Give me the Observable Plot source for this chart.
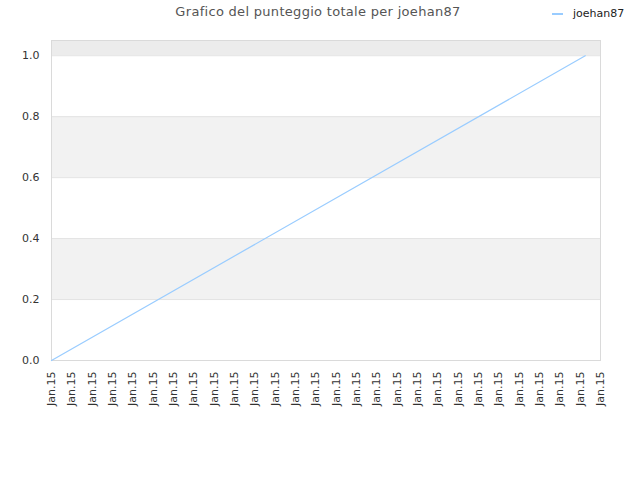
<!DOCTYPE html>
<html>
<head>
<meta charset="utf-8">
<script src="https://cdn.jsdelivr.net/npm/d3@7"></script>
<script src="https://cdn.jsdelivr.net/npm/@observablehq/plot@0.6"></script>
<style>
  body { margin: 0; background: #fff; font-family: "DejaVu Sans", sans-serif; }
  #wrap { position: relative; width: 640px; height: 480px; }
  #title { position: absolute; left: 0; width: 636px; top: 4px; text-align: center; font-size: 13px; color: #555; letter-spacing: 0.3px; }
  #legend { position: absolute; left: 552px; top: 7px; font-size: 11px; color: #222; display: flex; align-items: center; }
  #legend .sw { display: inline-block; width: 11px; height: 2px; background: #99ccff; margin-right: 10px; }
</style>
</head>
<body>
<div id="wrap">
  <div id="chart"></div>
  <div id="title">Grafico del punteggio totale per joehan87</div>
  <div id="legend"><span class="sw"></span><span>joehan87</span></div>
</div>
<script>
const seriesName = "joehan87";
const xValues = [0, 26.25];
const yValues = [0, 1];
const xTickLabels = Array.from({length: 28}, () => "Jan.15");
const xTicks = xTickLabels.map((_, i) => i);
const yTicks = [0, 0.2, 0.4, 0.6, 0.8, 1.0];
const bandLow = [0.2, 0.6];
const bandHigh = [0.4, 0.8];
const topBand = [1.0, 1.05];

const data = xValues.map((x, i) => ({x, y: yValues[i]}));
const bands = bandLow.map((lo, i) => ({lo, hi: bandHigh[i]}));

const chart = Plot.plot({
  width: 640,
  height: 480,
  marginLeft: 51,
  marginRight: 40,
  marginTop: 40,
  marginBottom: 120,
  style: { fontFamily: "DejaVu Sans, sans-serif", fontSize: "11px", color: "#333", background: "#fff" },
  x: { domain: [0, 27] },
  y: { domain: [0, 1.05] },
  marks: [
    Plot.rect(bands, { y1: "lo", y2: "hi", fill: "#f2f2f2" }),
    Plot.rect([{lo: topBand[0], hi: topBand[1]}], { y1: "lo", y2: "hi", fill: "#ececec" }),
    Plot.ruleY(yTicks.slice(1), { stroke: "#e3e3e3" }),
    Plot.frame({ stroke: "#dadada" }),
    Plot.axisY({ ticks: yTicks, tickFormat: d3.format(".1f"), tickSize: 0, tickPadding: 12, label: null, fill: "#333" }),
    Plot.axisX({ ticks: xTicks, tickFormat: (d, i) => xTickLabels[d], tickRotate: -90, tickSize: 0, tickPadding: 11, label: null, fill: "#333" }),
    Plot.line(data, { x: "x", y: "y", stroke: "#99ccff", strokeWidth: 1.2 })
  ]
});
document.getElementById("chart").appendChild(chart);
</script>
</body>
</html>
